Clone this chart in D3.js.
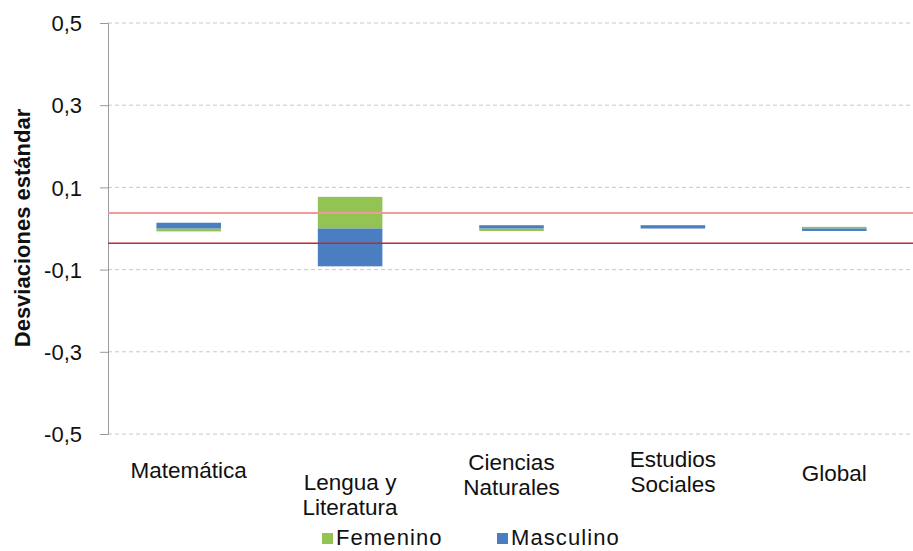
<!DOCTYPE html>
<html><head><meta charset="utf-8">
<script src="https://cdn.jsdelivr.net/npm/d3@7"></script>
<style>body{margin:0;background:#fff}svg{display:block}text{font-family:"Liberation Sans",Arial,sans-serif}</style>
</head><body><div id="chart"></div>
<script>
const categories = [["Matemática"],["Lengua y","Literatura"],["Ciencias","Naturales"],["Estudios","Sociales"],["Global"]];
const femenino = [-0.007, 0.077, -0.006, 0.0, 0.004];
const masculino = [0.014, -0.092, 0.008, 0.008, -0.006];
const yTicks = [0.5, 0.3, 0.1, -0.1, -0.3, -0.5];
const upperLimit = 0.038;
const lowerLimit = -0.036;
const seriesNames = ["Femenino","Masculino"];
const colors = {Femenino:"#92c353", Masculino:"#4a7ec0"};

const W=913,H=551;
const svg=d3.select("#chart").append("svg").attr("width",W).attr("height",H);
const x=d3.scaleBand().domain(categories.map((c,i)=>i)).range([108,915]).paddingInner(0.6).paddingOuter(0.3);
const y=d3.scaleLinear().domain([-0.5,0.5]).range([434,23]);

// gridlines
svg.append("g").selectAll("line").data(yTicks).join("line")
  .attr("x1",108).attr("x2",W).attr("y1",d=>y(d)).attr("y2",d=>y(d))
  .attr("stroke","#c8c8c8").attr("stroke-width",1).attr("stroke-dasharray","4,3");

// y axis
const yAxis=d3.axisLeft(y).tickValues(yTicks).tickSize(8).tickFormat(d=>d3.format(".1f")(d).replace(".",",").replace("−","-"));
const ga=svg.append("g").attr("transform","translate(108,0)").call(yAxis);
ga.select(".domain").attr("stroke","#9a9a9a");
ga.selectAll(".tick line").attr("stroke","#9a9a9a");
ga.selectAll(".tick text").attr("font-size",22).attr("fill","#111").attr("x",-26).attr("dy","0.35em");

svg.append("text").attr("transform","translate(30,228) rotate(-90)").attr("text-anchor","middle")
  .attr("font-size",22).attr("font-weight","bold").attr("fill","#111").text("Desviaciones estándar");

// stacked bars (diverging)
const bars=svg.append("g");
categories.forEach((c,i)=>{
  let pos=0,neg=0;
  [["Femenino",femenino[i]],["Masculino",masculino[i]]].forEach(([s,v])=>{
    let y0,y1;
    if(v>=0){y0=pos;y1=pos+v;pos=y1;} else {y0=neg;y1=neg+v;neg=y1;}
    if(v===0) return;
    bars.append("rect").attr("x",x(i)).attr("width",x.bandwidth())
      .attr("y",y(Math.max(y0,y1))).attr("height",Math.abs(y(y0)-y(y1)))
      .attr("fill",colors[s]);
  });
});

// limit lines
svg.append("line").attr("x1",108).attr("x2",W).attr("y1",y(upperLimit)).attr("y2",y(upperLimit))
  .attr("stroke","#f29a9a").attr("stroke-width",2);
svg.append("line").attr("x1",108).attr("x2",W).attr("y1",y(lowerLimit)).attr("y2",y(lowerLimit))
  .attr("stroke","#c0282d").attr("stroke-width",1.5);

// category labels
const baseY=[478,490,470,467,481];
categories.forEach((lines,i)=>{
  const t=svg.append("text").attr("text-anchor","middle").attr("font-size",22.5).attr("fill","#111");
  lines.forEach((l,j)=>t.append("tspan").attr("x",x(i)+x.bandwidth()/2).attr("y",baseY[i]+j*25).text(l));
});

// legend
const lx=[322,497];
seriesNames.forEach((s,i)=>{
  svg.append("rect").attr("x",lx[i]).attr("y",533).attr("width",11).attr("height",11).attr("fill",colors[s]);
  svg.append("text").attr("x",lx[i]+14).attr("y",545).attr("font-size",22).attr("letter-spacing",1.1).attr("fill","#111").text(s);
});
</script></body></html>
